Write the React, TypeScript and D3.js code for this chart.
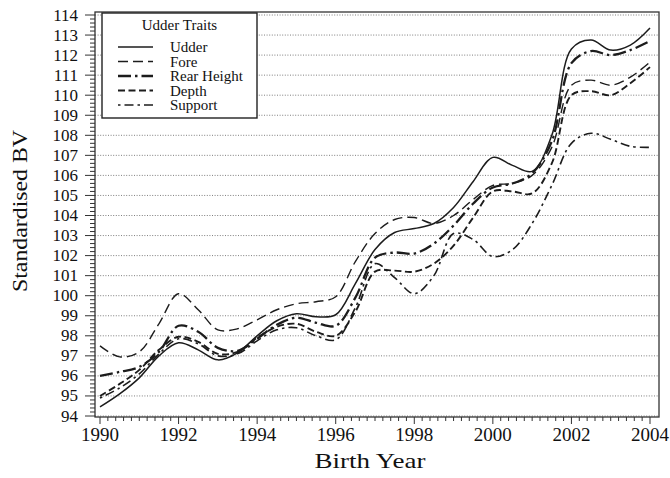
import * as d3 from 'd3';

// birth years, read every half year
const YEARS = [
  1990, 1990.5, 1991, 1991.5, 1992, 1992.5, 1993, 1993.5, 1994, 1994.5,
  1995, 1995.5, 1996, 1996.5, 1997, 1997.5, 1998, 1998.5, 1999, 1999.5,
  2000, 2000.5, 2001, 2001.5, 2002, 2002.5, 2003, 2003.5, 2004,
];

const UDDER = [94.45, 95.1, 95.9, 97.0, 97.65, 97.3, 96.8, 97.15, 98.0, 98.75, 99.1, 98.95, 99.05, 100.6, 102.3, 103.15, 103.35, 103.6, 104.4, 105.7, 106.9, 106.5, 106.2, 108.0, 112.3, 112.75, 112.25, 112.5, 113.35];
const FORE = [97.5, 96.95, 97.2, 98.6, 100.1, 99.3, 98.3, 98.35, 98.8, 99.3, 99.6, 99.7, 99.95, 101.7, 103.1, 103.8, 103.9, 103.6, 104.0, 104.8, 105.5, 105.6, 106.0, 107.4, 110.5, 110.75, 110.5, 110.9, 111.65];
const REAR_HEIGHT = [96.0, 96.2, 96.45, 97.2, 98.5, 98.2, 97.4, 97.25, 97.85, 98.55, 98.9, 98.65, 98.5, 99.9, 101.9, 102.15, 102.1, 102.6, 103.5, 104.6, 105.4, 105.6, 106.1, 107.7, 111.6, 112.2, 112.0, 112.25, 112.7];
const DEPTH = [95.0, 95.6, 96.3, 97.3, 97.95, 97.7, 97.1, 97.2, 97.9, 98.45, 98.6, 98.2, 98.0, 99.2, 101.2, 101.25, 101.2, 101.6, 102.5, 103.9, 105.2, 105.2, 105.1, 106.6, 110.0, 110.2, 110.0, 110.6, 111.4];
const SUPPORT = [94.9, 95.4, 96.1, 97.1, 97.85, 97.6, 97.0, 97.1, 97.75, 98.3, 98.4, 98.0, 97.8, 99.4, 101.6, 100.9, 100.1, 101.0, 103.1, 102.8, 101.95, 102.3, 103.6, 105.5, 107.6, 108.1, 107.8, 107.45, 107.4];

const TRAIT_NAMES = ['Udder', 'Fore', 'Rear Height', 'Depth', 'Support'];
const TRAIT_VALUES = [UDDER, FORE, REAR_HEIGHT, DEPTH, SUPPORT];

const X_LABELS = [1990, 1992, 1994, 1996, 1998, 2000, 2002, 2004];
const Y_LABELS = [94, 95, 96, 97, 98, 99, 100, 101, 102, 103, 104, 105, 106, 107, 108, 109, 110, 111, 112, 113, 114];

const LINE_STYLE: Record<string, { dash: string | null; width: number }> = {
  Udder: { dash: null, width: 1.5 },
  Fore: { dash: '10,5', width: 1.4 },
  'Rear Height': { dash: '13,4,2.5,4', width: 2.3 },
  Depth: { dash: '7,3.5', width: 1.9 },
  Support: { dash: '2.5,4,9,4', width: 1.6 },
};

const W = 670;
const H = 478;
const FRAME = { left: 95, right: 659, top: 12, bottom: 417 };
const INK = '#1c1c1c';
const FONT = '"Liberation Serif", "Times New Roman", serif';

export default function App() {
  const x = d3.scaleLinear().domain([1990, 2004]).range([100, 650]);
  const y = d3.scaleLinear().domain([94, 114]).range([416, 15]);

  const line = d3
    .line<number>()
    .x((_, i) => x(YEARS[i]))
    .y((d) => y(d))
    .curve(d3.curveCatmullRom.alpha(0.5));

  const yMinor = d3.range(94, 114.001, 0.2);
  const xMinor = d3.range(1990, 2004.001, 0.2);

  const legend = { x: 102, y: 13, w: 155, h: 105 };

  return (
    <svg
      width={W}
      height={H}
      style={{ position: 'absolute', left: 0, top: 0, background: '#fff' }}
      fontFamily={FONT}
    >
      {/* dotted grid */}
      {Y_LABELS.map((v) => (
        <line
          key={'g' + v}
          x1={FRAME.left}
          x2={FRAME.right}
          y1={y(v)}
          y2={y(v)}
          stroke="#707070"
          strokeWidth={0.9}
          strokeDasharray="1,1.6"
        />
      ))}

      {TRAIT_NAMES.map((name, i) => (
        <path
          key={name}
          d={line(TRAIT_VALUES[i]) ?? ''}
          fill="none"
          stroke={INK}
          strokeWidth={LINE_STYLE[name].width}
          strokeDasharray={LINE_STYLE[name].dash ?? undefined}
        />
      ))}

      <rect
        x={FRAME.left}
        y={FRAME.top}
        width={FRAME.right - FRAME.left}
        height={FRAME.bottom - FRAME.top}
        fill="none"
        stroke="#333"
        strokeWidth={1.3}
      />

      {/* y axis ticks */}
      {yMinor.map((v, i) => (
        <line
          key={'ym' + i}
          x1={FRAME.left - (i % 5 === 0 ? 10 : 5)}
          x2={FRAME.left}
          y1={y(v)}
          y2={y(v)}
          stroke="#333"
          strokeWidth={1}
        />
      ))}
      {Y_LABELS.map((v) => (
        <text key={'yl' + v} x={78} y={y(v) + 5.5} textAnchor="end" fontSize={17} fill="#111">
          {v}
        </text>
      ))}

      {/* x axis ticks */}
      {xMinor.map((v, i) => (
        <line
          key={'xm' + i}
          x1={x(v)}
          x2={x(v)}
          y1={FRAME.bottom}
          y2={FRAME.bottom + (i % 10 === 0 ? 7 : 4)}
          stroke="#333"
          strokeWidth={1}
        />
      ))}
      {X_LABELS.map((v) => (
        <text key={'xl' + v} x={x(v)} y={441} textAnchor="middle" fontSize={19} fill="#111">
          {v}
        </text>
      ))}

      <text x={370} y={468} textAnchor="middle" fontSize={21} fill="#111" textLength={111} lengthAdjust="spacingAndGlyphs">
        Birth Year
      </text>
      <text
        transform={`translate(27,211) rotate(-90)`}
        textAnchor="middle"
        fontSize={20}
        fill="#111"
        textLength={162}
        lengthAdjust="spacingAndGlyphs"
      >
        Standardised BV
      </text>

      {/* legend */}
      <rect x={legend.x} y={legend.y} width={legend.w} height={legend.h} fill="#fff" stroke="#222" strokeWidth={1.4} />
      <text x={legend.x + legend.w / 2} y={legend.y + 17} textAnchor="middle" fontSize={15} fill="#111">
        Udder Traits
      </text>
      {TRAIT_NAMES.map((name, i) => {
        const ly = legend.y + 34 + i * 14.5;
        return (
          <g key={'lg' + name}>
            <line
              x1={118}
              x2={153}
              y1={ly}
              y2={ly}
              stroke={INK}
              strokeWidth={LINE_STYLE[name].width}
              strokeDasharray={LINE_STYLE[name].dash ?? undefined}
            />
            <text x={170} y={ly + 5} fontSize={15} fill="#111">
              {name}
            </text>
          </g>
        );
      })}
    </svg>
  );
}
